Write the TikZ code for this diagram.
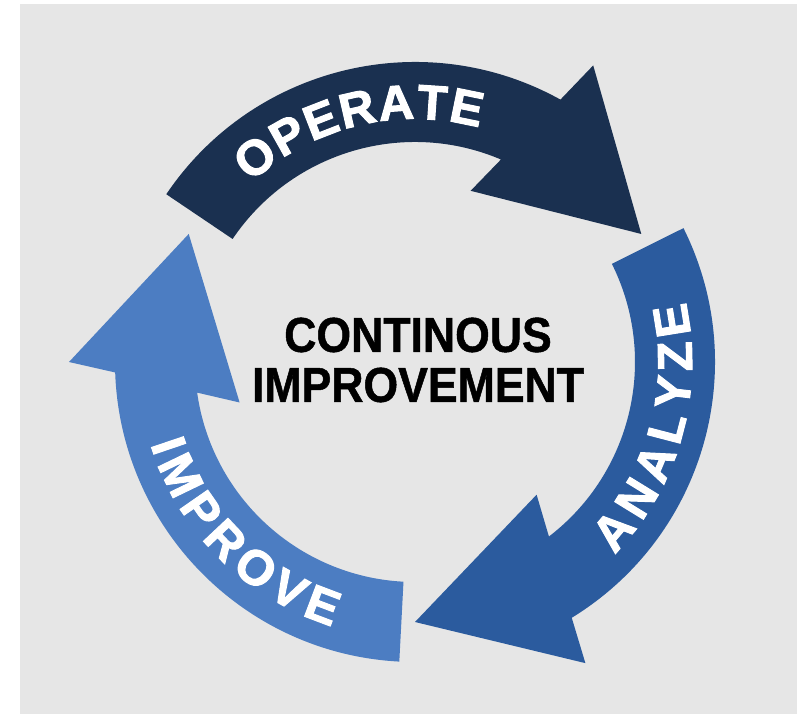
\documentclass[tikz,border=0pt]{standalone}
\usepackage{fontspec}
\usetikzlibrary{decorations.text}

\newfontfamily\ringfont[FakeBold=2]{Liberation Sans Bold}
\newfontfamily\narrowfont[FakeStretch=0.91, FakeBold=1]{Liberation Sans Bold}
\newcommand\ringstyle{\ringfont\fontsize{49}{50}\selectfont}

\definecolor{bggray}{HTML}{E6E6E6}
\definecolor{operateblue}{HTML}{1A3050}
\definecolor{analyzeblue}{HTML}{2B5B9E}
\definecolor{improveblue}{HTML}{4C7DC2}

\begin{document}
\begin{tikzpicture}[x=1pt, y=1pt,
    ringlabel/.style={decorate, decoration={text along path, text align=fit to path,
        text color=white, text={|\ringstyle|#1}}}]
        \useasboundingbox (-415,-352) rectangle (382,362);

        % Background
        \fill[bggray] (-395,-352) rectangle (382,358);

        % Operate arrow
        \fill[operateblue] (146:300) arc[start angle=146, end angle=61, radius=300]
            -- (59:346) -- (29.5:260) -- (72:180) -- (67:220)
            arc[start angle=67, end angle=146, radius=220] -- cycle;

        % Analyze arrow
        \fill[analyzeblue] (26.5:300) arc[start angle=26.5, end angle=-58.5, radius=300]
            -- (-60.5:346) -- (-90:260) -- (-47.5:180) -- (-52.5:220)
            arc[start angle=-52.5, end angle=26.5, radius=220] -- cycle;

        % Improve arrow
        \fill[improveblue] (267:300) arc[start angle=267, end angle=182, radius=300]
            -- (180:346) -- (150.5:260) -- (193:180) -- (188:220)
            arc[start angle=188, end angle=267, radius=220] -- cycle;

        % Labels on the ring
        \path[ringlabel=OPERATE] (132.5:243) arc[start angle=132.5, end angle=74.6, radius=243];
        \path[ringlabel=ANALYZE] (-44:277) arc[start angle=-44, end angle=12.5, radius=277];
        \path[ringlabel=IMPROVE] (197.3:277) arc[start angle=197.3, end angle=252.6, radius=277];

        % Centre text
        \node[align=center, font=\narrowfont\fontsize{49}{50}\selectfont] (centre) at (3,2)
            {CONTINOUS\\IMPROVEMENT};
    \end{tikzpicture}
\end{document}
